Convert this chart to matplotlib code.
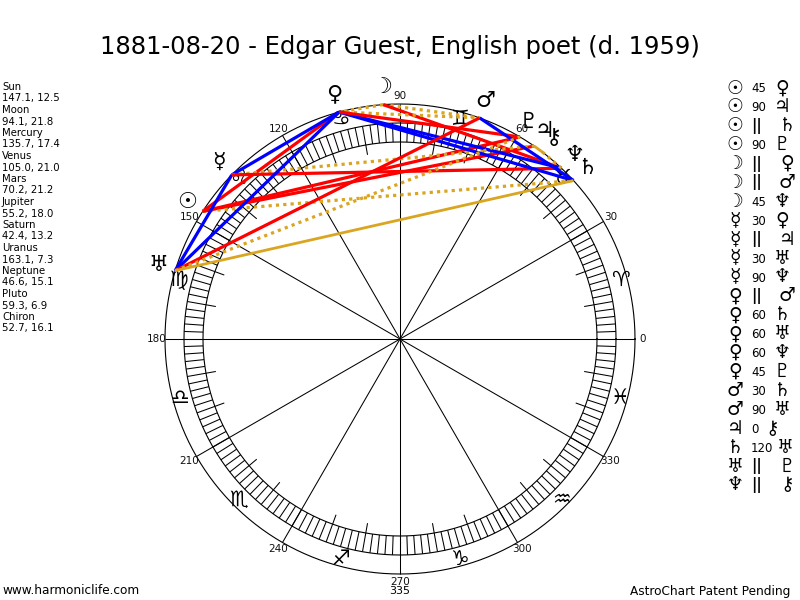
import numpy as np
import matplotlib
matplotlib.use('Agg')
import matplotlib.pyplot as plt
from matplotlib.collections import LineCollection

# ---------------- data ----------------
planets = ['Sun', 'Moon', 'Mercury', 'Venus', 'Mars', 'Jupiter', 'Saturn',
           'Uranus', 'Neptune', 'Pluto', 'Chiron']
longitudes = [147.1, 94.1, 135.7, 105.0, 70.2, 55.2, 42.4, 163.1, 46.6, 59.3, 52.7]
second_vals = [12.5, 21.8, 17.4, 21.0, 21.2, 18.0, 13.2, 7.3, 15.1, 6.9, 16.1]
glyphs = ['☉', '☽', '☿', '♀', '♂', '♃', '♄', '♅', '♆', '♇', '⚷']

aspect_from = ['Sun', 'Sun', 'Sun', 'Sun', 'Moon', 'Moon', 'Moon', 'Mercury', 'Mercury',
               'Mercury', 'Mercury', 'Venus', 'Venus', 'Venus', 'Venus', 'Venus', 'Mars',
               'Mars', 'Jupiter', 'Saturn', 'Uranus', 'Neptune']
aspect_type = ['45', '90', '||', '90', '||', '||', '45', '30', '||', '30', '90', '||',
               '60', '60', '60', '45', '30', '90', '0', '120', '||', '||']
aspect_to = ['Venus', 'Jupiter', 'Saturn', 'Pluto', 'Venus', 'Mars', 'Neptune', 'Venus',
             'Jupiter', 'Uranus', 'Neptune', 'Mars', 'Saturn', 'Uranus', 'Neptune', 'Pluto',
             'Saturn', 'Uranus', 'Chiron', 'Uranus', 'Pluto', 'Chiron']

degree_labels = [0, 30, 60, 90, 120, 150, 180, 210, 240, 270, 300, 330]
zodiac = ['♈', '♉', '♊', '♋', '♌', '♍', '♎', '♏', '♐', '♑', '♒', '♓']
title = '1881-08-20 - Edgar Guest, English poet (d. 1959)'
bottom_value = '335'

# ---------------- style ----------------
CX, CY = 400, 339
R_OUT, R_RING_O, R_RING_I, R_TICK = 235, 216, 197, 187
RED, BLUE, GOLD = '#ff0000', '#0000ff', '#daa520'
aspect_style = {
    '45': dict(color=RED, lw=2.3, ls='-'),
    '90': dict(color=RED, lw=2.3, ls='-'),
    '30': dict(color=BLUE, lw=2.3, ls='-'),
    '60': dict(color=BLUE, lw=2.3, ls='-'),
    '120': dict(color=GOLD, lw=2.0, ls='-'),
    '0': dict(color=GOLD, lw=2.0, ls='-'),
    '||': dict(color=GOLD, lw=2.3, ls=(0, (1.0, 1.3))),
}
GFONT = ['DejaVu Sans']


def pos(angle, r):
    a = np.deg2rad(angle)
    return CX + r * np.cos(a), CY - r * np.sin(a)


fig = plt.figure(figsize=(8, 6), dpi=100)
ax = fig.add_axes([0, 0, 1, 1])
ax.set_xlim(0, 800)
ax.set_ylim(600, 0)
ax.axis('off')

# circles
t = np.linspace(0, 360, 721)
for r in (R_OUT, R_RING_O, R_RING_I):
    x, y = pos(t, r)
    ax.plot(x, y, color='black', lw=0.8)

# ring ticks every 2 degrees
segs = []
for a in range(0, 360, 2):
    segs.append([pos(a, R_RING_I), pos(a, R_RING_O)])
# 10-degree ticks inside ring
for a in range(0, 360, 10):
    if a % 30:
        segs.append([pos(a, R_TICK), pos(a, R_RING_I)])
# 30-degree spokes
for a in range(0, 360, 30):
    segs.append([pos(a, 0), pos(a, R_OUT)])
ax.add_collection(LineCollection(segs, colors='black', linewidths=0.75))

# degree labels
for d in degree_labels:
    x, y = pos(d, 243)
    ax.text(x, y, str(d), fontsize=7.5, ha='center', va='center', color='#111111')
ax.text(CX, 591, bottom_value, fontsize=8, ha='center', va='center')

# zodiac glyphs
for i, z in enumerate(zodiac):
    x, y = pos(15 + 30 * i, 228)
    ax.text(x, y, z, fontsize=15, ha='center', va='center', family=GFONT)

# aspect lines
lon = dict(zip(planets, longitudes))
for p1, asp, p2 in zip(aspect_from, aspect_type, aspect_to):
    x1, y1 = pos(lon[p1], R_OUT)
    x2, y2 = pos(lon[p2], R_OUT)
    st = aspect_style[asp]
    ax.plot([x1, x2], [y1, y2], color=st['color'], lw=st['lw'], ls=st['ls'],
            solid_capstyle='butt', zorder=3)

# planet glyphs
for g, L in zip(glyphs, longitudes):
    x, y = pos(L, 253)
    ax.text(x, y, g, fontsize=16, ha='center', va='center', family=GFONT,
            fontweight='bold', zorder=4)

# title
ax.text(400, 47, title, fontsize=17.5, ha='center', va='center')

# left list
y0 = 87
for i, (p, L, v) in enumerate(zip(planets, longitudes, second_vals)):
    ax.text(2, y0 + 23 * i, p, fontsize=7.3, ha='left', va='center')
    ax.text(2, y0 + 23 * i + 11.5, f'{L:.1f}, {v:.1f}', fontsize=7.3, ha='left', va='center')

# right aspect list
gmap = dict(zip(planets, glyphs))
g2x = {1: 772, 2: 782, 3: 785}
for i, (p1, asp, p2) in enumerate(zip(aspect_from, aspect_type, aspect_to)):
    y = 88 + 18.9 * i
    ax.text(735, y, gmap[p1], fontsize=13.5, ha='center', va='center', family=GFONT,
            fontweight='bold')
    if asp == '||':
        ax.text(751, y, '||', fontsize=10.5, fontweight='bold', ha='left', va='center')
        x2 = 787
    else:
        ax.text(751, y + 1, asp, fontsize=8.5, ha='left', va='center')
        x2 = g2x[len(asp)]
    ax.text(x2, y, gmap[p2], fontsize=13.5, ha='center', va='center', family=GFONT,
            fontweight='bold')

# footer
ax.text(2, 591, 'www.harmoniclife.com', fontsize=8.7, ha='left', va='center')
ax.text(790, 591, 'AstroChart Patent Pending', fontsize=8.7, ha='right', va='center')

fig.savefig('out.png', dpi=100, facecolor='white')
